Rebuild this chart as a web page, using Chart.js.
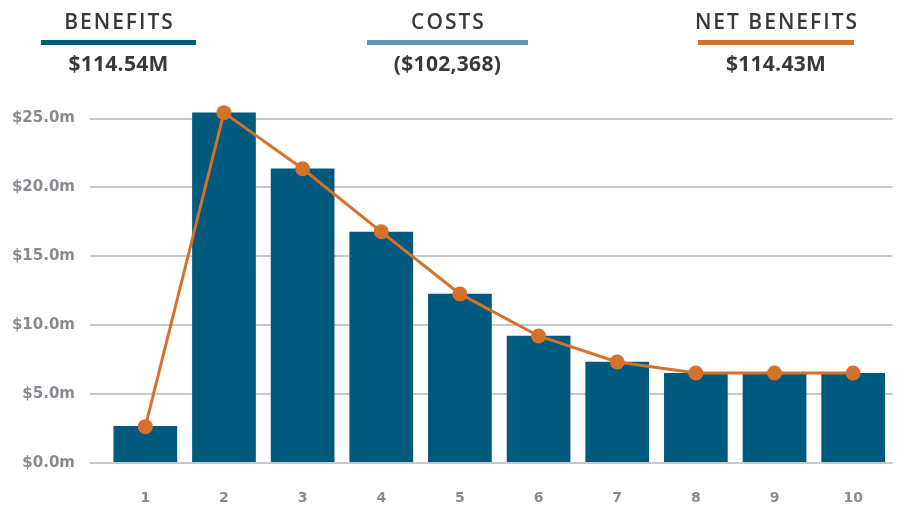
<!DOCTYPE html>
<html>
<head>
<meta charset="utf-8">
<script src="https://cdn.jsdelivr.net/npm/chart.js@4/dist/chart.umd.min.js"></script>
<style>
  html, body { margin: 0; padding: 0; background: #fff; }
  #wrap { position: relative; width: 900px; height: 506px; }
  canvas { position: absolute; left: 0; top: 0; }
  .key { position: absolute; top: 8px; width: 180px; text-align: center; font-family: "Open Sans", sans-serif; color: #35383d; }
  .key .name { font-size: 21px; font-weight: 600; line-height: 26px; letter-spacing: 2px; margin-right: -2px; }
  .key .bar { height: 5px; width: 155px; margin: 6px auto 0; }
  .key .val { font-size: 21px; font-weight: 700; line-height: 26px; margin-top: 5px; letter-spacing: 0.3px; }
</style>
</head>
<body>
<div id="wrap">
  <canvas id="chart" width="900" height="506"></canvas>
  <div class="key" style="left:28.5px"><div class="name">BENEFITS</div><div class="bar" style="background:#005a7e"></div><div class="val">$114.54M</div></div>
  <div class="key" style="left:357.5px"><div class="name">COSTS</div><div class="bar" style="background:#5b97b5;width:161px"></div><div class="val">($102,368)</div></div>
  <div class="key" style="left:686px"><div class="name">NET BENEFITS</div><div class="bar" style="background:#d4712a;width:156px"></div><div class="val">$114.43M</div></div>
</div>
<script>
// years 1..10, values in $ millions
const years = ["1", "2", "3", "4", "5", "6", "7", "8", "9", "10"];
const benefits = [2.69, 25.44, 21.37, 16.79, 12.28, 9.23, 7.34, 6.54, 6.54, 6.54];
const costs = [0.05, 0.006, 0.006, 0.006, 0.006, 0.006, 0.006, 0.006, 0.006, 0.006];
const netBenefits = [2.64, 25.43, 21.36, 16.78, 12.27, 9.22, 7.33, 6.53, 6.53, 6.53];
const yTicks = [0, 5, 10, 15, 20, 25];

const ctx = document.getElementById("chart").getContext("2d");

new Chart(ctx, {
  data: {
    labels: years,
    datasets: [
      {
        type: "line",
        label: "Net Benefits",
        data: netBenefits,
        borderColor: "#d4712a",
        backgroundColor: "#d4712a",
        borderWidth: 3,
        pointRadius: 7.5,
        pointHoverRadius: 7.5,
        pointBorderWidth: 0,
        tension: 0,
        order: 0
      },
      {
        type: "bar",
        label: "Benefits",
        data: benefits,
        backgroundColor: "#005a7e",
        categoryPercentage: 1,
        barPercentage: 0.81,
        order: 1
      },
      {
        type: "bar",
        label: "Costs",
        data: costs.map(v => -v),
        backgroundColor: "#5b97b5",
        categoryPercentage: 1,
        barPercentage: 0.81,
        hidden: true,
        order: 2
      }
    ]
  },
  options: {
    responsive: false,
    animation: false,
    layout: { padding: { top: 91, right: 4, bottom: 0, left: 0 } },
    plugins: {
      legend: { display: false },
      tooltip: { enabled: false }
    },
    scales: {
      x: {
        stacked: true,
        afterFit: scale => { scale.height = 43; },
        grid: { display: false, drawTicks: false },
        border: { display: false },
        ticks: {
          padding: 27,
          color: "#878b91",
          font: { family: "DejaVu Sans", size: 14, weight: "bold" }
        }
      },
      y: {
        stacked: true,
        min: 0,
        max: 27,
        afterBuildTicks: scale => { scale.ticks = yTicks.map(v => ({ value: v })); },
        afterFit: scale => { scale.width = 106; },
        grid: { color: "#c8c8c8", lineWidth: 2, tickLength: 16 },
        border: { display: false },
        ticks: {
          padding: 15,
          color: "#878b91",
          font: { family: "DejaVu Sans", size: 15, weight: "bold" },
          callback: v => "$" + v.toFixed(1) + "m"
        }
      }
    }
  }
});
</script>
</body>
</html>
